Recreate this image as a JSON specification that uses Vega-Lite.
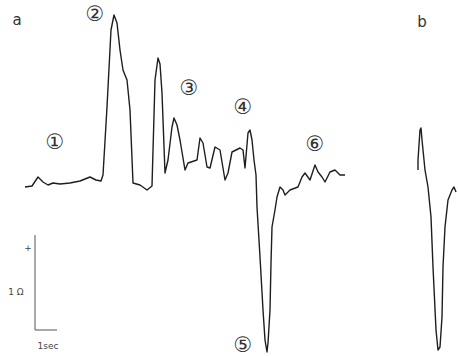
{
  "$schema": "https://vega.github.io/schema/vega-lite/v6.json",
  "width": 458,
  "height": 356,
  "autosize": {"type": "fit", "contains": "padding"},
  "padding": 0,
  "background": "white",
  "config": {"view": {"stroke": null}},
  "datasets": {
    "trace": [
      {"trace": "a", "i": 0, "t": 25, "v": 187},
      {"trace": "a", "i": 1, "t": 32, "v": 186},
      {"trace": "a", "i": 2, "t": 38, "v": 177},
      {"trace": "a", "i": 3, "t": 43, "v": 182},
      {"trace": "a", "i": 4, "t": 48, "v": 185},
      {"trace": "a", "i": 5, "t": 53, "v": 183},
      {"trace": "a", "i": 6, "t": 60, "v": 184},
      {"trace": "a", "i": 7, "t": 70, "v": 183},
      {"trace": "a", "i": 8, "t": 80, "v": 181},
      {"trace": "a", "i": 9, "t": 90, "v": 177},
      {"trace": "a", "i": 10, "t": 96, "v": 180},
      {"trace": "a", "i": 11, "t": 101, "v": 181},
      {"trace": "a", "i": 12, "t": 103, "v": 175},
      {"trace": "a", "i": 13, "t": 107, "v": 107},
      {"trace": "a", "i": 14, "t": 111, "v": 30},
      {"trace": "a", "i": 15, "t": 114, "v": 15},
      {"trace": "a", "i": 16, "t": 117, "v": 23},
      {"trace": "a", "i": 17, "t": 120, "v": 50},
      {"trace": "a", "i": 18, "t": 123, "v": 70},
      {"trace": "a", "i": 19, "t": 127, "v": 80},
      {"trace": "a", "i": 20, "t": 130, "v": 110},
      {"trace": "a", "i": 21, "t": 133, "v": 183},
      {"trace": "a", "i": 22, "t": 140, "v": 185},
      {"trace": "a", "i": 23, "t": 147, "v": 190},
      {"trace": "a", "i": 24, "t": 152, "v": 186},
      {"trace": "a", "i": 25, "t": 155, "v": 80},
      {"trace": "a", "i": 26, "t": 158, "v": 58},
      {"trace": "a", "i": 27, "t": 160, "v": 64},
      {"trace": "a", "i": 28, "t": 162, "v": 93},
      {"trace": "a", "i": 29, "t": 165, "v": 173},
      {"trace": "a", "i": 30, "t": 168, "v": 160},
      {"trace": "a", "i": 31, "t": 172, "v": 127},
      {"trace": "a", "i": 32, "t": 174, "v": 118},
      {"trace": "a", "i": 33, "t": 177, "v": 125},
      {"trace": "a", "i": 34, "t": 180, "v": 140},
      {"trace": "a", "i": 35, "t": 185, "v": 170},
      {"trace": "a", "i": 36, "t": 188, "v": 163},
      {"trace": "a", "i": 37, "t": 197, "v": 160},
      {"trace": "a", "i": 38, "t": 200, "v": 138},
      {"trace": "a", "i": 39, "t": 203, "v": 143},
      {"trace": "a", "i": 40, "t": 207, "v": 167},
      {"trace": "a", "i": 41, "t": 210, "v": 168},
      {"trace": "a", "i": 42, "t": 215, "v": 147},
      {"trace": "a", "i": 43, "t": 220, "v": 150},
      {"trace": "a", "i": 44, "t": 225, "v": 180},
      {"trace": "a", "i": 45, "t": 228, "v": 173},
      {"trace": "a", "i": 46, "t": 232, "v": 152},
      {"trace": "a", "i": 47, "t": 236, "v": 150},
      {"trace": "a", "i": 48, "t": 240, "v": 148},
      {"trace": "a", "i": 49, "t": 243, "v": 150},
      {"trace": "a", "i": 50, "t": 245, "v": 168},
      {"trace": "a", "i": 51, "t": 248, "v": 133},
      {"trace": "a", "i": 52, "t": 250, "v": 130},
      {"trace": "a", "i": 53, "t": 252, "v": 140},
      {"trace": "a", "i": 54, "t": 254, "v": 160},
      {"trace": "a", "i": 55, "t": 256, "v": 175},
      {"trace": "a", "i": 56, "t": 257, "v": 207},
      {"trace": "a", "i": 57, "t": 260, "v": 257},
      {"trace": "a", "i": 58, "t": 263, "v": 310},
      {"trace": "a", "i": 59, "t": 265, "v": 340},
      {"trace": "a", "i": 60, "t": 267, "v": 352},
      {"trace": "a", "i": 61, "t": 268, "v": 343},
      {"trace": "a", "i": 62, "t": 270, "v": 310},
      {"trace": "a", "i": 63, "t": 271, "v": 263},
      {"trace": "a", "i": 64, "t": 272, "v": 227},
      {"trace": "a", "i": 65, "t": 275, "v": 210},
      {"trace": "a", "i": 66, "t": 277, "v": 197},
      {"trace": "a", "i": 67, "t": 280, "v": 187},
      {"trace": "a", "i": 68, "t": 283, "v": 190},
      {"trace": "a", "i": 69, "t": 285, "v": 195},
      {"trace": "a", "i": 70, "t": 290, "v": 190},
      {"trace": "a", "i": 71, "t": 298, "v": 187},
      {"trace": "a", "i": 72, "t": 302, "v": 177},
      {"trace": "a", "i": 73, "t": 305, "v": 173},
      {"trace": "a", "i": 74, "t": 310, "v": 180},
      {"trace": "a", "i": 75, "t": 315, "v": 165},
      {"trace": "a", "i": 76, "t": 318, "v": 172},
      {"trace": "a", "i": 77, "t": 322, "v": 177},
      {"trace": "a", "i": 78, "t": 325, "v": 182},
      {"trace": "a", "i": 79, "t": 330, "v": 172},
      {"trace": "a", "i": 80, "t": 335, "v": 170},
      {"trace": "a", "i": 81, "t": 340, "v": 175},
      {"trace": "a", "i": 82, "t": 345, "v": 175},
      {"trace": "b", "i": 0, "t": 418, "v": 170},
      {"trace": "b", "i": 1, "t": 418, "v": 160},
      {"trace": "b", "i": 2, "t": 420, "v": 130},
      {"trace": "b", "i": 3, "t": 421, "v": 128},
      {"trace": "b", "i": 4, "t": 422, "v": 140},
      {"trace": "b", "i": 5, "t": 425, "v": 170},
      {"trace": "b", "i": 6, "t": 428, "v": 187},
      {"trace": "b", "i": 7, "t": 431, "v": 217},
      {"trace": "b", "i": 8, "t": 433, "v": 267},
      {"trace": "b", "i": 9, "t": 436, "v": 330},
      {"trace": "b", "i": 10, "t": 438, "v": 350},
      {"trace": "b", "i": 11, "t": 440, "v": 347},
      {"trace": "b", "i": 12, "t": 442, "v": 317},
      {"trace": "b", "i": 13, "t": 443, "v": 267},
      {"trace": "b", "i": 14, "t": 445, "v": 227},
      {"trace": "b", "i": 15, "t": 448, "v": 200},
      {"trace": "b", "i": 16, "t": 452, "v": 190},
      {"trace": "b", "i": 17, "t": 454, "v": 187},
      {"trace": "b", "i": 18, "t": 456, "v": 192}
    ],
    "bars": [
      {"t": 35, "v": 235, "t2": 35, "v2": 330},
      {"t": 35, "v": 330, "t2": 57, "v2": 330}
    ],
    "circled": [
      {"label": "①", "t": 55, "v": 143},
      {"label": "②", "t": 95, "v": 15},
      {"label": "③", "t": 189, "v": 89},
      {"label": "④", "t": 243, "v": 108},
      {"label": "⑤", "t": 243, "v": 346},
      {"label": "⑥", "t": 315, "v": 145}
    ],
    "panels": [
      {"label": "a", "t": 17, "v": 20},
      {"label": "b", "t": 422, "v": 22}
    ],
    "small": [
      {"label": "+", "t": 28, "v": 248},
      {"label": "1 Ω", "t": 16, "v": 292},
      {"label": "1sec", "t": 48, "v": 346}
    ]
  },
  "layer": [
    {
      "data": {"name": "trace"},
      "mark": {"type": "line", "color": "#1e1e1e", "strokeWidth": 1.4, "strokeJoin": "round"},
      "encoding": {
        "x": {"field": "t", "type": "quantitative", "scale": {"domain": [0, 458], "nice": false, "zero": false}, "axis": null},
        "y": {"field": "v", "type": "quantitative", "scale": {"domain": [356, 0], "nice": false, "zero": false}, "axis": null},
        "detail": {"field": "trace"},
        "order": {"field": "i", "type": "quantitative"}
      }
    },
    {
      "data": {"name": "bars"},
      "mark": {"type": "rule", "color": "#555", "strokeWidth": 1},
      "encoding": {
        "x": {"field": "t", "type": "quantitative"},
        "y": {"field": "v", "type": "quantitative"},
        "x2": {"field": "t2"},
        "y2": {"field": "v2"}
      }
    },
    {
      "data": {"name": "circled"},
      "mark": {"type": "text", "font": "DejaVu Sans", "fontSize": 21, "color": "#333", "baseline": "middle", "align": "center"},
      "encoding": {
        "x": {"field": "t", "type": "quantitative"},
        "y": {"field": "v", "type": "quantitative"},
        "text": {"field": "label"}
      }
    },
    {
      "data": {"name": "panels"},
      "mark": {"type": "text", "font": "DejaVu Sans", "fontSize": 15, "color": "#333", "baseline": "middle", "align": "center"},
      "encoding": {
        "x": {"field": "t", "type": "quantitative"},
        "y": {"field": "v", "type": "quantitative"},
        "text": {"field": "label"}
      }
    },
    {
      "data": {"name": "small"},
      "mark": {"type": "text", "font": "DejaVu Sans", "fontSize": 9, "color": "#444", "baseline": "middle", "align": "center"},
      "encoding": {
        "x": {"field": "t", "type": "quantitative"},
        "y": {"field": "v", "type": "quantitative"},
        "text": {"field": "label"}
      }
    }
  ]
}
